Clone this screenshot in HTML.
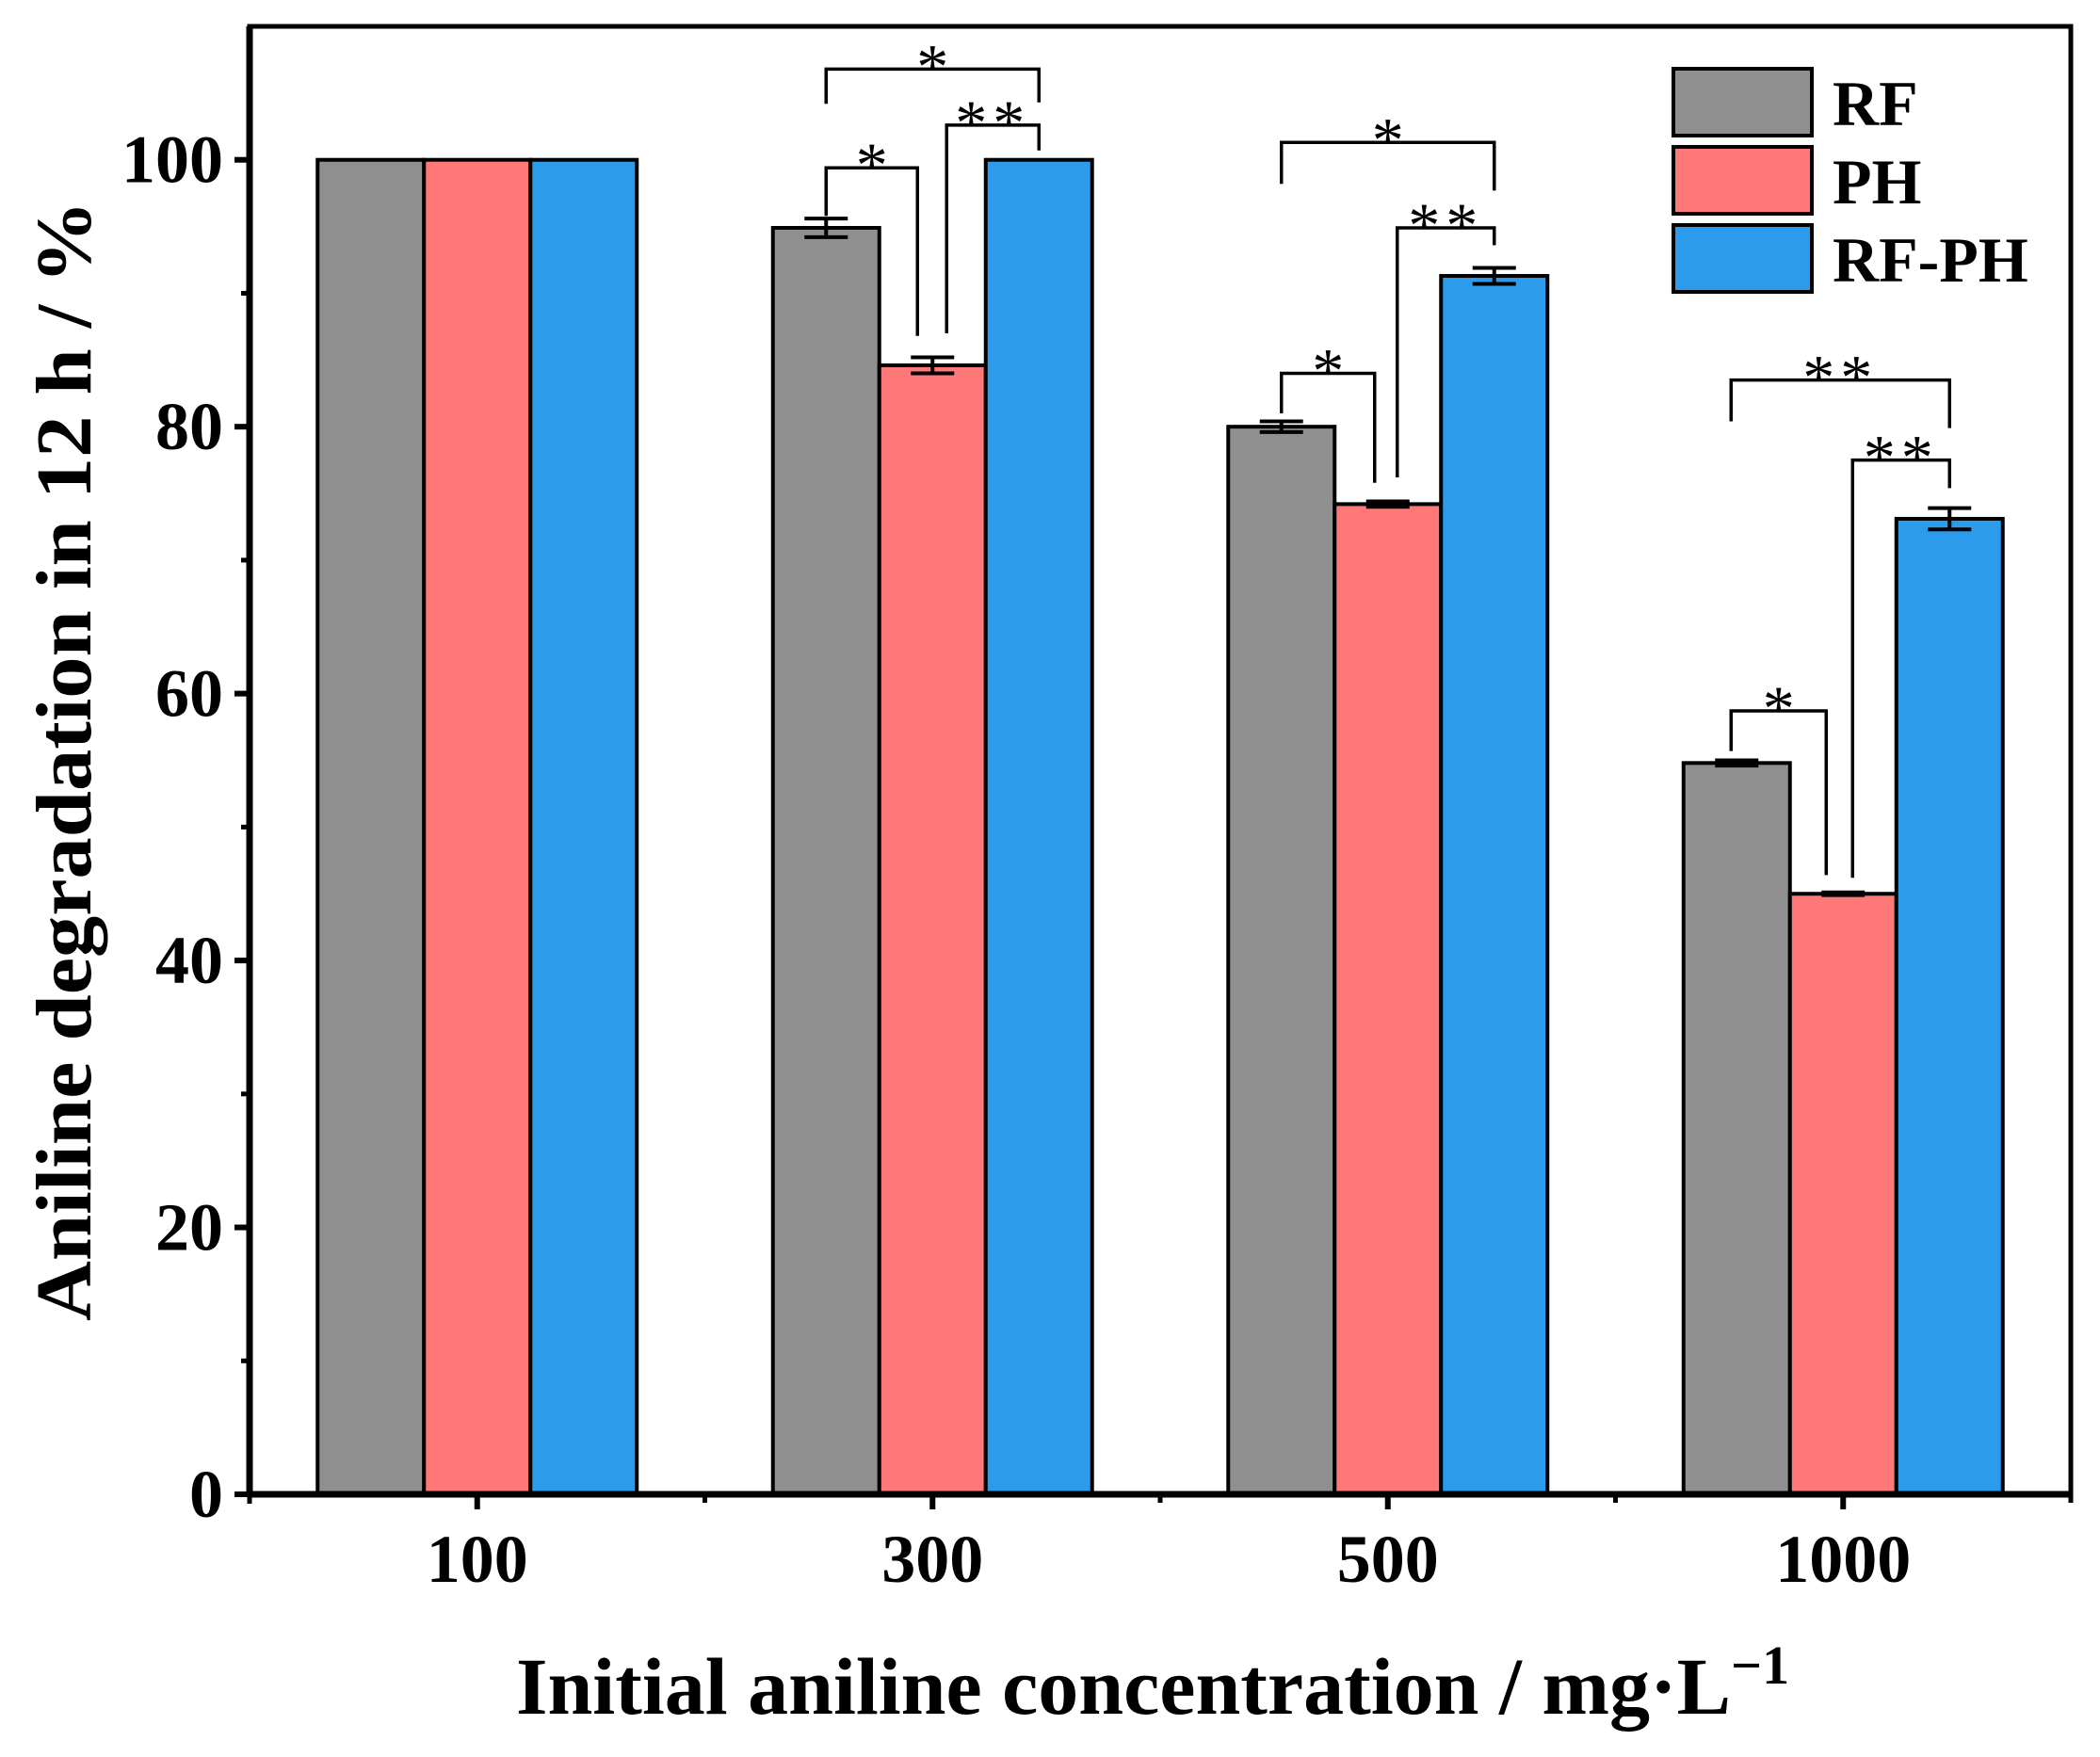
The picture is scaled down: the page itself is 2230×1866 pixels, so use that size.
<!DOCTYPE html>
<html><head><meta charset="utf-8"><style>
html,body{margin:0;padding:0;background:#fff;}
svg{display:block;font-family:"Liberation Serif","DejaVu Serif",serif;}
</style></head><body>
<svg id="chart" width="2230" height="1866" viewBox="0 0 2230 1866" xmlns="http://www.w3.org/2000/svg">
<g id="bars"></g>
<g id="errs"></g>
<g id="sig"></g>
<g id="axes"></g>
<g id="legend"></g>
<text transform="translate(96,808) rotate(-90)" text-anchor="middle" font-size="84" font-weight="bold" textLength="1190" lengthAdjust="spacingAndGlyphs">Aniline degradation in 12 h / %</text>
<text x="548" y="1820" font-size="86" font-weight="bold">Initial aniline concentration / mg·L<tspan dy="-32" font-size="58">−1</tspan></text>
</svg>
<script>
const categories = ["100", "300", "500", "1000"];
const seriesNames = ["RF", "PH", "RF-PH"];
const rfValues = [100, 94.9, 80.0, 54.8];
const phValues = [100, 84.6, 74.2, 45.0];
const rfphValues = [100, 100, 91.3, 73.1];
const rfErrors = [0, 0.7, 0.4, 0.2];
const phErrors = [0, 0.6, 0.2, 0.1];
const rfphErrors = [0, 0, 0.6, 0.8];
const yTicks = [0, 20, 40, 60, 80, 100];
// brackets: [group, leftSeries, rightSeries, topValue, leftBottom, rightBottom, label, leftOffset, rightOffset]
const brackets = [
  [1, 0, 1, 99.4, 95.8, 86.8, "*", 0, -16],
  [1, 1, 2, 102.6, 87.0, 100.7, "**", 15, 0],
  [1, 0, 2, 106.8, 104.2, 104.3, "*", 0, 0],
  [2, 0, 1, 84.0, 81.0, 75.8, "*", 0, -14],
  [2, 1, 2, 94.9, 76.2, 93.6, "**", 10, 0],
  [2, 0, 2, 101.3, 98.2, 97.7, "*", 0, 0],
  [3, 0, 1, 58.7, 55.7, 46.4, "*", -6, -18],
  [3, 1, 2, 77.5, 46.2, 75.4, "**", 10, 0],
  [3, 0, 2, 83.5, 80.4, 79.9, "**", -6, 0]
];
const colors = ["#8f8f8f", "#ff7878", "#2d9bec"];
const NS = "http://www.w3.org/2000/svg";
const L = 265, R = 2199, T = 28, B = 1587;
const yMin = 0, yMax = 110;
const y = v => B - (v - yMin) / (yMax - yMin) * (B - T);
const x = i => L + (i + 0.5) * (R - L) / categories.length;
const BW = 113;
const barX = (g, s) => x(g) + (s - 1.5) * BW;
function mk(tag, attrs, parent){
  const e = document.createElementNS(NS, tag);
  for (const k in attrs) e.setAttribute(k, attrs[k]);
  parent.appendChild(e); return e;
}
const gb = document.getElementById('bars'), ge = document.getElementById('errs'),
      gs = document.getElementById('sig'), ga = document.getElementById('axes'),
      gl = document.getElementById('legend');
const vals = [rfValues, phValues, rfphValues], errs = [rfErrors, phErrors, rfphErrors];
categories.forEach((c, g) => {
  vals.forEach((arr, s) => {
    const r = mk('rect', {x: barX(g, s), y: y(arr[g]), width: BW, height: y(0) - y(arr[g]), fill: colors[s], stroke: '#000', 'stroke-width': 4}, gb);
    
    
    const e = errs[s][g];
    if (e > 0) {
      const cx = barX(g, s) + BW / 2;
      const eg = mk('g', {stroke: '#000', 'stroke-width': 4}, ge);
      
      
      mk('line', {x1: cx, x2: cx, y1: y(arr[g] + e), y2: y(arr[g] - e)}, eg);
      mk('line', {x1: cx - 23, x2: cx + 23, y1: y(arr[g] + e), y2: y(arr[g] + e)}, eg);
      mk('line', {x1: cx - 23, x2: cx + 23, y1: y(arr[g] - e), y2: y(arr[g] - e)}, eg);
    }
  });
});
brackets.forEach(b => {
  const [g, s1, s2, top, lb, rb, lab, o1, o2] = b;
  const x1 = barX(g, s1) + BW / 2 + o1, x2 = barX(g, s2) + BW / 2 + o2;
  const p = mk('path', {d: `M${x1},${y(lb)} V${y(top)} H${x2} V${y(rb)}`, fill: 'none', stroke: '#000', 'stroke-width': 3.5}, gs);
  
  
  const t = mk('text', {x: (x1 + x2) / 2, y: y(top) + 20, 'text-anchor': 'middle', 'font-size': 68, 'letter-spacing': lab.length > 1 ? 6 : 0}, gs);
  
  
  t.textContent = lab;
});
mk('rect', {x: L, y: T, width: R - L, height: B - T, fill: 'none', stroke: '#000', 'stroke-width': 5}, ga);
mk('line', {x1: L, x2: R, y1: B, y2: B, stroke: '#000', 'stroke-width': 7}, ga);
mk('line', {x1: L, x2: L, y1: T, y2: B + 3, stroke: '#000', 'stroke-width': 7}, ga);
yTicks.forEach(v => {
  mk('line', {x1: L - 16, x2: L, y1: y(v), y2: y(v), stroke: '#000', 'stroke-width': 6}, ga);
  const t = mk('text', {x: L - 28, y: y(v) + 24, 'text-anchor': 'end', 'font-size': 72, 'font-weight': 'bold'}, ga);
  
  
  t.textContent = v;
});
for (let i = 0; i < yTicks.length - 1; i++) {
  const v = (yTicks[i] + yTicks[i + 1]) / 2;
  mk('line', {x1: L - 9, x2: L, y1: y(v), y2: y(v), stroke: '#000', 'stroke-width': 5}, ga);
}
mk('line', {x1: L, x2: L, y1: B, y2: B + 10, stroke: '#000', 'stroke-width': 5}, ga);
categories.forEach((c, g) => {
  mk('line', {x1: x(g), x2: x(g), y1: B, y2: B + 16, stroke: '#000', 'stroke-width': 6}, ga);
  if (g < categories.length - 1) {
    const mx = (x(g) + x(g + 1)) / 2;
    mk('line', {x1: mx, x2: mx, y1: B, y2: B + 9, stroke: '#000', 'stroke-width': 5}, ga);
  }
  const t = mk('text', {x: x(g), y: 1680, 'text-anchor': 'middle', 'font-size': 72, 'font-weight': 'bold'}, ga);
  
  
  t.textContent = c;
});
mk('line', {x1: R, x2: R, y1: B, y2: B + 9, stroke: '#000', 'stroke-width': 5}, ga);
seriesNames.forEach((n, s) => {
  const top = 73 + s * 83;
  const e = mk('g', {}, gl);
  
  
  mk('rect', {x: 1777, y: top, width: 147, height: 71, fill: colors[s], stroke: '#000', 'stroke-width': 4}, e);
  const t = mk('text', {x: 1946, y: top + 60, 'font-size': 68, 'font-weight': 'bold'}, e);
  t.textContent = n;
});
</script>
</body></html>
